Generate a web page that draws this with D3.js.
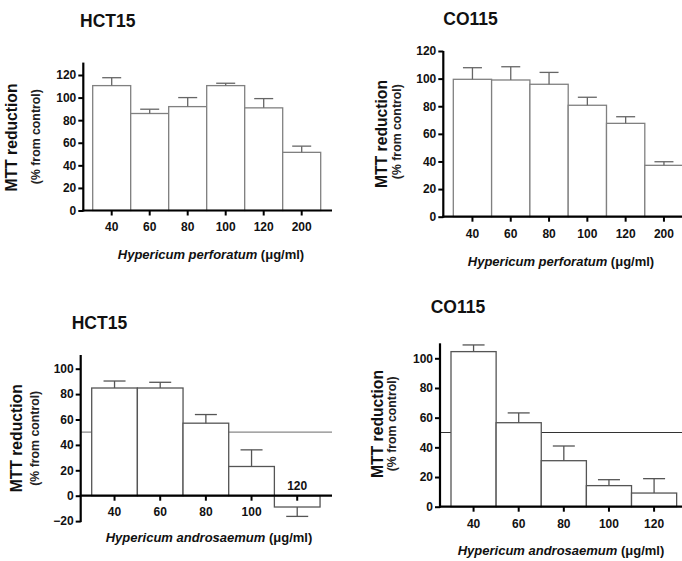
<!DOCTYPE html>
<html>
<head>
<meta charset="utf-8">
<script src="https://cdn.jsdelivr.net/npm/d3@7"></script>
<style>
  html, body { margin: 0; padding: 0; background: #fff; }
  svg { display: block; }
  text { font-family: "Liberation Sans", Arial, sans-serif; }
</style>
</head>
<body>
<svg id="chart" width="682" height="561"></svg>
<script>
// ---------------- DATA ----------------
const perforatumDoses = ["40", "60", "80", "100", "120", "200"];
const androsaemumDoses = ["40", "60", "80", "100", "120"];

const hct15PerforatumMean = [110.6, 85.9, 92.0, 110.6, 90.9, 51.5];
const hct15PerforatumErr  = [7.0, 3.8, 8.0, 2.1, 8.2, 5.5];

const co115PerforatumMean = [99.5, 99.0, 95.9, 80.7, 67.6, 37.2];
const co115PerforatumErr  = [8.4, 9.6, 8.6, 5.8, 4.8, 2.6];

const hct15AndrosaemumMean = [84.8, 84.8, 57.1, 23.0, -8.9];
const hct15AndrosaemumErr  = [5.5, 4.5, 6.8, 13.1, 7.4];

const co115AndrosaemumMean = [104.5, 56.6, 31.0, 14.2, 9.2];
const co115AndrosaemumErr  = [4.5, 6.6, 9.9, 4.0, 9.7];

const yTicks120 = [0, 20, 40, 60, 80, 100, 120];
const yTicksNeg = [-20, 0, 20, 40, 60, 80, 100];
const yTicks100 = [0, 20, 40, 60, 80, 100];

const referenceLevel = 50;

const titles = ["HCT15", "CO115", "HCT15", "CO115"];
const yLabel = "MTT reduction";
const ySubLabel = "(% from control)";
const extractNames = ["Hypericum perforatum", "Hypericum androsaemum"];
const unitLabel = " (\u03bcg/ml)";

// ---------------- LAYOUT ----------------
const svg = d3.select("#chart");

const panels = [
  { title: titles[0], doses: perforatumDoses, mean: hct15PerforatumMean, err: hct15PerforatumErr,
    ticks: yTicks120, domainTop: 131, domainBottom: 0, y0: 210.5, yRefPx: 75, yRefVal: 120,
    axisX: 83.3, xEnd: 332, barLeft: 92.7, barW: 38, cap: 19,
    tickPad: 7, extract: extractNames[0], ref: false,
    titleX: 80, titleY: 26.7,
    yl: { x: 16.7, y: 137.5 }, ysl: { x: 40, y: 136.7 },
    xl: { x: 211, y: 258.7 }, barStroke: "#808080", errStroke: "#666" },
  { title: titles[1], doses: perforatumDoses, mean: co115PerforatumMean, err: co115PerforatumErr,
    ticks: yTicks120, domainTop: 120, domainBottom: 0, y0: 216.7, yRefPx: 51, yRefVal: 120,
    axisX: 443.3, xEnd: 700, barLeft: 453.3, barW: 38.3, cap: 19,
    tickPad: 7.4, extract: extractNames[0], ref: false,
    titleX: 443.3, titleY: 25,
    yl: { x: 386.7, y: 134 }, ysl: { x: 401, y: 131.7 },
    xl: { x: 561, y: 265.5 }, barStroke: "#808080", errStroke: "#666" },
  { title: titles[2], doses: androsaemumDoses, mean: hct15AndrosaemumMean, err: hct15AndrosaemumErr,
    ticks: yTicksNeg, domainTop: 110.8, domainBottom: -20, y0: 495.7, yRefPx: 368.7, yRefVal: 100,
    axisX: 80.7, xEnd: 332, barLeft: 91.7, barW: 45.67, cap: 22,
    tickPad: 6.8, extract: extractNames[1], ref: true, refStroke: "#888",
    titleX: 71.7, titleY: 329,
    yl: { x: 21.7, y: 438.3 }, ysl: { x: 38.5, y: 438.3 },
    xl: { x: 209, y: 541.7 }, barStroke: "#555", errStroke: "#555" },
  { title: titles[3], doses: androsaemumDoses, mean: co115AndrosaemumMean, err: co115AndrosaemumErr,
    ticks: yTicks100, domainTop: 110.1, domainBottom: 0, y0: 506.7, yRefPx: 358.3, yRefVal: 100,
    axisX: 440, xEnd: 700, barLeft: 451, barW: 45.13, cap: 22,
    tickPad: 7.4, extract: extractNames[1], ref: true, refStroke: "#333",
    titleX: 430.7, titleY: 312.7,
    yl: { x: 383.3, y: 424 }, ysl: { x: 396, y: 423.8 },
    xl: { x: 561, y: 555 }, barStroke: "#555", errStroke: "#555" }
];

panels.forEach(p => drawPanel(p));

function drawPanel(p) {
  const g = svg.append("g");
  const n = p.doses.length;

  const x = d3.scaleBand()
    .domain(p.doses)
    .range([p.barLeft, p.barLeft + n * p.barW])
    .padding(0);

  const y = d3.scaleLinear()
    .domain([0, p.yRefVal])
    .range([p.y0, p.yRefPx]);

  // reference line at 50%
  if (p.ref) {
    g.append("line")
      .attr("x1", p.axisX).attr("x2", p.xEnd)
      .attr("y1", y(referenceLevel)).attr("y2", y(referenceLevel))
      .attr("stroke", p.refStroke).attr("stroke-width", 1.2);
  }

  const data = p.doses.map((d, i) => ({ dose: d, mean: p.mean[i], err: p.err[i] }));

  // bars
  g.selectAll("rect.bar").data(data).enter().append("rect")
    .attr("class", "bar")
    .attr("x", d => x(d.dose))
    .attr("width", x.bandwidth())
    .attr("y", d => Math.min(y(d.mean), y(0)))
    .attr("height", d => Math.abs(y(0) - y(d.mean)))
    .attr("fill", "#fff")
    .attr("stroke", p.barStroke)
    .attr("stroke-width", 1.3);

  // error bars
  const errG = g.selectAll("g.err").data(data).enter().append("g").attr("class", "err");
  errG.append("line")
    .attr("x1", d => x(d.dose) + x.bandwidth() / 2)
    .attr("x2", d => x(d.dose) + x.bandwidth() / 2)
    .attr("y1", d => y(d.mean))
    .attr("y2", d => y(d.mean + (d.mean < 0 ? -d.err : d.err)))
    .attr("stroke", p.errStroke).attr("stroke-width", 1.3);
  errG.append("line")
    .attr("x1", d => x(d.dose) + x.bandwidth() / 2 - p.cap / 2)
    .attr("x2", d => x(d.dose) + x.bandwidth() / 2 + p.cap / 2)
    .attr("y1", d => y(d.mean + (d.mean < 0 ? -d.err : d.err)))
    .attr("y2", d => y(d.mean + (d.mean < 0 ? -d.err : d.err)))
    .attr("stroke", p.errStroke).attr("stroke-width", 1.3);

  // y axis
  const yAxis = d3.axisLeft(y).tickValues(p.ticks).tickSize(5).tickPadding(2).tickFormat(d3.format("d"));
  const ya = g.append("g").attr("transform", `translate(${p.axisX},0)`).call(yAxis);
  ya.select(".domain").remove();
  ya.selectAll(".tick line").attr("stroke", "#000").attr("stroke-width", 2);
  ya.selectAll(".tick text")
    .attr("font-size", 12).attr("font-weight", "bold").attr("fill", "#111")
    .attr("font-family", "'Liberation Sans', Arial, sans-serif");
  ya.append("line")
    .attr("x1", 0).attr("x2", 0)
    .attr("y1", y(p.domainTop)).attr("y2", y(p.domainBottom) + 1)
    .attr("stroke", "#000").attr("stroke-width", 2.2);

  // x axis
  const xAxis = d3.axisBottom(x).tickSize(5).tickPadding(p.tickPad);
  const xa = g.append("g").attr("transform", `translate(0,${y(0)})`).call(xAxis);
  xa.select(".domain").remove();
  xa.selectAll(".tick line").attr("stroke", "#000").attr("stroke-width", 2);
  xa.selectAll(".tick text")
    .attr("font-size", 12).attr("font-weight", "bold").attr("fill", "#111")
    .attr("font-family", "'Liberation Sans', Arial, sans-serif");
  // labels for negative bars are placed above the axis
  xa.selectAll(".tick").filter((d, i) => p.mean[i] < 0)
    .select("text").attr("y", -6).attr("dy", 0);
  xa.append("line")
    .attr("x1", p.axisX - 1).attr("x2", p.xEnd)
    .attr("y1", 0).attr("y2", 0)
    .attr("stroke", "#000").attr("stroke-width", 2.2);

  // title
  g.append("text")
    .attr("x", p.titleX).attr("y", p.titleY)
    .attr("font-size", 17.5).attr("font-weight", "bold").attr("fill", "#111")
    .text(p.title);

  // y labels
  g.append("text")
    .attr("transform", `translate(${p.yl.x},${p.yl.y}) rotate(-90)`)
    .attr("text-anchor", "middle")
    .attr("font-size", 15.7).attr("font-weight", "bold").attr("fill", "#111")
    .text(yLabel);
  g.append("text")
    .attr("transform", `translate(${p.ysl.x},${p.ysl.y}) rotate(-90)`)
    .attr("text-anchor", "middle")
    .attr("font-size", 12.3).attr("font-weight", "bold").attr("fill", "#222")
    .text(ySubLabel);

  // x label
  const xl = g.append("text")
    .attr("x", p.xl.x).attr("y", p.xl.y)
    .attr("text-anchor", "middle")
    .attr("font-size", 13).attr("font-weight", "bold").attr("fill", "#111");
  xl.append("tspan").attr("font-style", "italic").text(p.extract);
  xl.append("tspan").text(unitLabel);
}
</script>
</body>
</html>
